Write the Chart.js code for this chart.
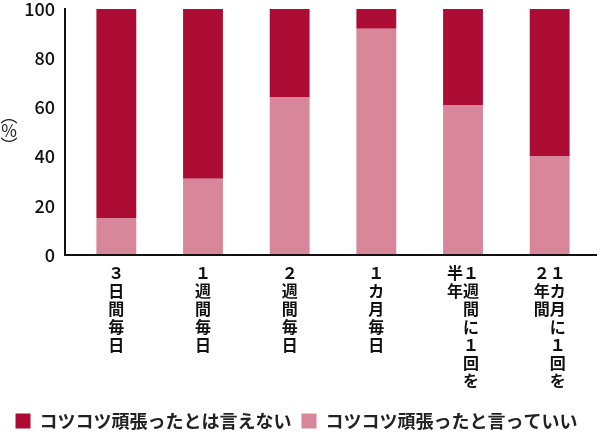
<!DOCTYPE html>
<html>
<head>
<meta charset="utf-8">
<script src="https://cdn.jsdelivr.net/npm/chart.js@4"></script>
<style>
html,body{margin:0;padding:0;background:#fff;}
#wrap{position:relative;width:600px;height:435px;}
</style>
</head>
<body>
<div id="wrap"><canvas id="c" width="600" height="435"></canvas></div>
<script>
const categories = [
  ["３","日","間","毎","日"],
  ["１","週","間","毎","日"],
  ["２","週","間","毎","日"],
  ["１","カ","月","毎","日"],
  ["半１","年週","　間","　に","　１","　回","　を"],
  ["２１","年カ","間月","　に","　１","　回","　を"]
];
const seriesNames = ["コツコツ頑張ったとは言えない", "コツコツ頑張ったと言っていい"];
const notGood = [85, 69, 36, 8, 39, 60];
const good = [15, 31, 64, 92, 61, 40];
const yTicks = [0, 20, 40, 60, 80, 100];
const yTitle = ["︵", "%", "︶"];

const FONT = "'Noto Sans CJK JP', 'Noto Sans', sans-serif";

const axisPlugin = {
  id: 'axisLines',
  afterDatasetsDraw(chart) {
    const ctx = chart.ctx;
    const a = chart.chartArea;
    const y0 = chart.scales.y.getPixelForValue(0);
    const y100 = chart.scales.y.getPixelForValue(100);
    const xl = a.left - 8;
    ctx.save();
    ctx.strokeStyle = '#111';
    ctx.lineWidth = 2;
    ctx.beginPath();
    ctx.moveTo(xl, y100 - 1);
    ctx.lineTo(xl, y0);
    ctx.lineTo(597, y0);
    ctx.stroke();
    ctx.fillStyle = '#222';
    ctx.font = "17px " + FONT;
    ctx.textAlign = 'center';
    ctx.textBaseline = 'middle';
    const cy = 131;
    ctx.fillText(yTitle[0], 9, cy - 15);
    ctx.fillText(yTitle[1], 9, cy);
    ctx.fillText(yTitle[2], 9, cy + 15);
    ctx.restore();
  }
};

new Chart(document.getElementById('c'), {
  type: 'bar',
  data: {
    labels: categories,
    datasets: [
      { label: seriesNames[0], data: notGood, backgroundColor: '#AD0D35', stack: 's', order: 1 },
      { label: seriesNames[1], data: good, backgroundColor: '#D8879A', stack: 's', order: 0 }
    ]
  },
  plugins: [axisPlugin],
  options: {
    responsive: false,
    animation: false,
    layout: { padding: { top: 9, right: 7, left: 0, bottom: -5 } },
    datasets: { bar: { categoryPercentage: 1, barPercentage: 0.46 } },
    plugins: {
      tooltip: { enabled: false },
      legend: {
        position: 'bottom',
        labels: {
          boxWidth: 15, boxHeight: 15, padding: 10,
          color: '#222',
          font: { family: FONT, size: 18, weight: 'bold' },
          generateLabels(chart) {
            return chart.data.datasets.map((d, i) => ({
              text: d.label, fillStyle: d.backgroundColor, strokeStyle: d.backgroundColor,
              lineWidth: 0, datasetIndex: i, fontColor: '#222'
            }));
          }
        }
      }
    },
    scales: {
      x: {
        stacked: true,
        grid: { display: false, drawTicks: false },
        border: { display: false },
        ticks: {
          maxRotation: 0, minRotation: 0, autoSkip: false,
          color: '#111', padding: 9,
          font: { family: FONT, size: 16, weight: 'bold', lineHeight: 1.125 }
        },
        afterFit(scale) { scale.height = 147; scale.paddingLeft = 0; scale.paddingRight = 0; }
      },
      y: {
        stacked: true,
        min: 0, max: 100,
        grid: { display: false, drawTicks: false },
        border: { display: false },
        afterBuildTicks(scale) { scale.ticks = yTicks.map(v => ({ value: v })); },
        ticks: {
          color: '#111', padding: 18,
          font: { family: FONT, size: 18, weight: '500' }
        },
        afterFit(scale) { scale.width = 73; scale.paddingTop = 0; scale.paddingBottom = 0; }
      }
    }
  }
});
</script>
</body>
</html>
